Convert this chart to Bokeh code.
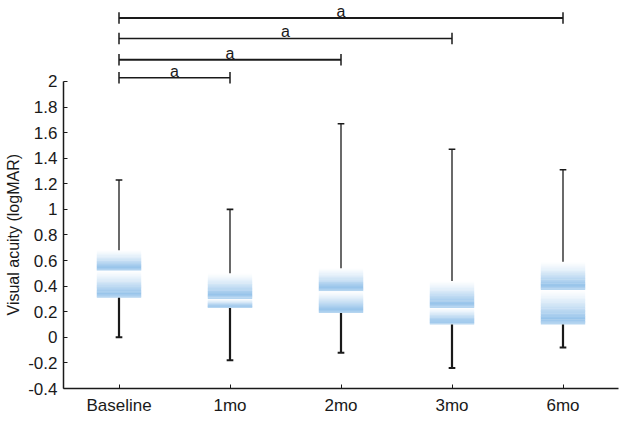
import numpy as np
from bokeh.plotting import figure
from bokeh.models import FixedTicker, Range1d, Title
from bokeh.core.properties import value
from bokeh.embed import file_html
from bokeh.resources import INLINE

# ---------------- data ----------------
categories = ["Baseline", "1mo", "2mo", "3mo", "6mo"]
whisker_low = [0.00, -0.18, -0.12, -0.24, -0.08]
q1 = [0.31, 0.23, 0.19, 0.10, 0.10]
median = [0.52, 0.30, 0.36, 0.23, 0.37]
q3 = [0.68, 0.50, 0.54, 0.44, 0.59]
whisker_high = [1.23, 1.00, 1.67, 1.47, 1.31]

y_ticks = [-0.4, -0.2, 0, 0.2, 0.4, 0.6, 0.8, 1, 1.2, 1.4, 1.6, 1.8, 2]
y_tick_labels = ["-0.4", "-0.2", "0", "0.2", "0.4", "0.6", "0.8", "1",
                 "1.2", "1.4", "1.6", "1.8", "2"]
y_title = "Visual acuity (logMAR)"

# significance brackets: from group index -> to group index, with label
sig_from = [0, 0, 0, 0]
sig_to = [1, 2, 3, 4]
sig_labels = ["a", "a", "a", "a"]

# ---------------- layout constants ----------------
BOX_W = 0.40
CAP_W = 0.03
sig_heights = [2.03, 2.17, 2.336, 2.496]
sig_widths = [1.5, 2.0, 1.5, 2.0]
SIG_TICK = 0.045
FONT = "Liberation Sans"

xs = np.arange(1, len(categories) + 1, dtype=float)

p = figure(width=628, height=418,
           x_range=Range1d(0.5, 5.5), y_range=Range1d(-0.4, 2.633),
           output_backend="svg", toolbar_location=None,
           min_border_left=62, min_border_right=10,
           min_border_top=0, min_border_bottom=30)
p.outline_line_color = None
p.xgrid.visible = False
p.ygrid.visible = False
p.background_fill_color = "white"
p.border_fill_color = "white"

# ---------------- gradient boxes ----------------
blue = np.array([150, 195, 234], dtype=float)


def profile(t):
    if t <= 0.85:
        return (t / 0.85) ** 1.3
    return 1.0 - (t - 0.85) / 0.15 * 0.35


def to_hex(f):
    rgb = 255.0 - (255.0 - blue) * f
    return "#%02x%02x%02x" % tuple(int(round(c)) for c in rgb)


N = 22
lefts, rights, tops, bottoms, colors = [], [], [], [], []
for i, x in enumerate(xs):
    for hi, lo in ((q3[i], median[i]), (median[i], q1[i])):
        h = (hi - lo) / N
        for k in range(N):
            t = (k + 0.5) / N
            top = hi - k * h
            bot = hi - (k + 1) * h
            lefts.append(x - BOX_W / 2)
            rights.append(x + BOX_W / 2)
            tops.append(top + (0.003 if k > 0 else 0))
            bottoms.append(bot)
            colors.append(to_hex(profile(t)))

p.quad(left=lefts, right=rights, top=tops, bottom=bottoms,
       fill_color=colors, line_color=None)

# ---------------- whiskers ----------------
p.segment(x0=xs, y0=q3, x1=xs, y1=whisker_high, line_color="#1a1a1a", line_width=1.3)
p.segment(x0=xs, y0=whisker_low, x1=xs, y1=q1, line_color="#1a1a1a", line_width=2.2)
p.segment(x0=xs - CAP_W, y0=whisker_high, x1=xs + CAP_W, y1=whisker_high,
          line_color="#1a1a1a", line_width=1.6)
p.segment(x0=xs - CAP_W, y0=whisker_low, x1=xs + CAP_W, y1=whisker_low,
          line_color="#1a1a1a", line_width=2)

# ---------------- significance brackets ----------------
bx0 = xs[np.array(sig_from)]
bx1 = xs[np.array(sig_to)]
for j in range(len(sig_labels)):
    yb = sig_heights[j]
    p.segment(x0=[bx0[j]], y0=[yb], x1=[bx1[j]], y1=[yb],
              line_color="#1a1a1a", line_width=sig_widths[j])
    p.segment(x0=[bx0[j], bx1[j]], y0=[yb - SIG_TICK, yb - SIG_TICK],
              x1=[bx0[j], bx1[j]], y1=[yb + SIG_TICK, yb + SIG_TICK],
              line_color="#1a1a1a", line_width=1.5)
p.text(x=(bx0 + bx1) / 2, y=sig_heights, text=sig_labels,
       text_font=value(FONT), text_font_size="16px", text_color="#1a1a1a",
       text_align="center", text_baseline="bottom", y_offset=2)

# ---------------- axes ----------------
p.yaxis.ticker = FixedTicker(ticks=y_ticks)
p.yaxis.major_label_overrides = {t: l for t, l in zip(y_ticks, y_tick_labels)}
p.yaxis.bounds = (y_ticks[0], y_ticks[-1])
p.yaxis.major_label_standoff = 6

# y-axis title, starting low so it is centred on the axis span as in the reference
p.add_layout(Title(text=y_title, align="left", offset=73, vertical_align="middle",
                   standoff=6, text_font=FONT, text_font_size="16px",
                   text_font_style="normal", text_color="#1a1a1a"), "left")

p.xaxis.ticker = FixedTicker(ticks=list(xs))
p.xaxis.major_label_overrides = {float(x): c for x, c in zip(xs, categories)}
p.xaxis.major_label_standoff = 7

for ax in (p.xaxis[0], p.yaxis[0]):
    ax.axis_line_color = "#1a1a1a"
    ax.axis_line_width = 1.5
    ax.major_tick_line_color = "#1a1a1a"
    ax.major_tick_line_width = 1
    ax.major_tick_in = 4
    ax.major_tick_out = 0
    ax.minor_tick_line_color = None
    ax.major_label_text_font = FONT
    ax.major_label_text_font_size = "17px"
    ax.major_label_text_color = "#1a1a1a"

open("out.html", "w").write(file_html(p, INLINE))
